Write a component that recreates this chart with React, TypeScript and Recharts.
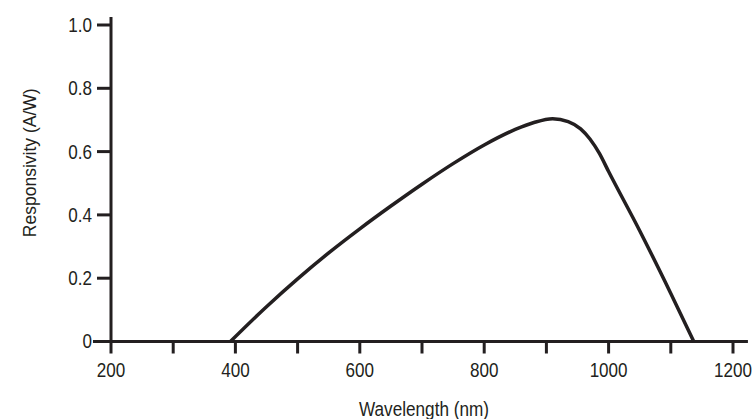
import { Label, Line, LineChart, ReferenceLine, XAxis, YAxis } from 'recharts'

const wavelengths = [392, 450, 500, 550, 600, 650, 700, 750, 800, 850, 880, 910, 935, 955, 970, 985, 1000, 1050, 1100, 1137]
const responsivity = [0, 0.11, 0.198, 0.28, 0.356, 0.428, 0.497, 0.562, 0.621, 0.67, 0.692, 0.704, 0.695, 0.672, 0.64, 0.595, 0.537, 0.35, 0.152, 0]

const xTicks = [200, 300, 400, 500, 600, 700, 800, 900, 1000, 1100, 1200]
const yTicks = [0, 0.2, 0.4, 0.6, 0.8, 1.0]

const data = wavelengths.map((w, i) => ({ w, r: responsivity[i] }))

const ink = '#231f20'
const font = '"Liberation Sans", Arial, sans-serif'
const squeeze = 0.875

function XTick({ x, y, payload }: any) {
  const v = payload.value as number
  if (v % 200 !== 0) return null
  return (
    <g transform={`translate(${x},${y})`}>
      <text transform={`scale(${squeeze},1)`} textAnchor="middle" dy="0.71em" fill={ink} fontSize={19.5} fontFamily={font}>
        {v}
      </text>
    </g>
  )
}

function YTick({ x, y, payload }: any) {
  const v = payload.value as number
  return (
    <g transform={`translate(${x},${y})`}>
      <text transform={`scale(${squeeze},1)`} textAnchor="end" dy="0.355em" fill={ink} fontSize={19.5} fontFamily={font}>
        {v === 0 ? '0' : v.toFixed(1)}
      </text>
    </g>
  )
}

export default function App() {
  return (
    <div style={{ position: 'absolute', left: 0, top: 0, width: 755, height: 419, background: '#fff' }}>
      <LineChart width={755} height={419} data={data} margin={{ top: 25, right: 22, bottom: 0, left: 0 }}>
        <XAxis
          dataKey="w"
          type="number"
          domain={[200, 1200]}
          ticks={xTicks}
          axisLine={false}
          tickLine={{ stroke: ink, strokeWidth: 3 }}
          tickSize={12}
          tickMargin={10}
          height={77.5}
          tick={<XTick />}
          interval={0}
        >
          <Label
            content={({ viewBox }: any) => {
              const cx = viewBox.x + viewBox.width / 2 + 2
              return (
                <g transform={`translate(${cx},416)`}>
                  <text transform={`scale(0.88,1)`} textAnchor="middle" fill={ink} fontSize={19.5} fontFamily={font}>
                    Wavelength (nm)
                  </text>
                </g>
              )
            }}
          />
        </XAxis>
        <YAxis
          type="number"
          domain={[0, 1]}
          ticks={yTicks}
          axisLine={false}
          tickLine={{ stroke: ink, strokeWidth: 3 }}
          tickSize={14}
          tickMargin={5}
          width={111}
          tick={<YTick />}
          interval={0}
        >
          <Label
            content={({ viewBox }: any) => {
              const cy = viewBox.y + viewBox.height / 2 - 20.5
              return (
                <text
                  x={36}
                  y={cy}
                  transform={`rotate(-90 36 ${cy})`}
                  textAnchor="middle"
                  fill={ink}
                  fontSize={17.5}
                  fontFamily={font}
                >
                  Responsivity (A/W)
                </text>
              )
            }}
          />
        </YAxis>
        <ReferenceLine
          segment={[{ x: 171, y: 0 }, { x: 1224, y: 0 }]}
          stroke={ink}
          strokeWidth={3}
          ifOverflow="visible"
        />
        <ReferenceLine
          segment={[{ x: 200, y: 0 }, { x: 200, y: 1.025 }]}
          stroke={ink}
          strokeWidth={3}
          ifOverflow="visible"
        />
        <Line
          dataKey="r"
          type="monotone"
          stroke={ink}
          strokeWidth={3.5}
          dot={false}
          isAnimationActive={false}
        />
      </LineChart>
    </div>
  )
}
